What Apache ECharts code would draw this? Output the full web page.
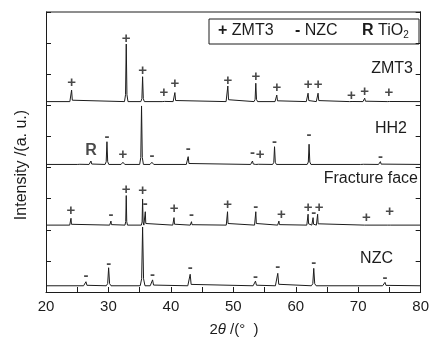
<!DOCTYPE html>
<html>
<head>
<meta charset="utf-8">
<script src="https://cdn.jsdelivr.net/npm/echarts@6/dist/echarts.min.js"></script>
<style>
  html, body { margin: 0; padding: 0; background: #fff; }
  #chart { width: 432px; height: 338px; }
</style>
</head>
<body>
<div id="chart"></div>
<script>
// peak positions (2theta) and peak tops for each stacked pattern, offsets in a.u.
const zmt3Base = 6.12
const zmt3Pos = [24.1, 32.85, 35.47, 38.88, 40.64, 49.12, 53.6, 56.96, 61.97, 63.57, 68.9, 71.04, 74.93]
const zmt3Top = [6.49, 7.97, 6.92, 6.17, 6.41, 6.62, 6.71, 6.33, 6.39, 6.39, 6.15, 6.23, 6.15]

const hh2Base = 4.1
const hh2Pos = [25.3, 27.2, 29.76, 32.32, 35.3, 36.96, 42.77, 53.07, 53.9, 56.6, 62.13, 70.7, 73.55]
const hh2Top = [4.14, 4.21, 4.83, 4.17, 5.98, 4.17, 4.35, 4.21, 4.15, 4.67, 4.75, 4.14, 4.19]

const fracBase = 2.15
const fracPos = [24.0, 30.4, 32.85, 35.47, 35.9, 40.5, 43.3, 49.07, 53.6, 57.3, 61.97, 62.77, 63.5, 71.2, 74.93]
const fracTop = [2.37, 2.28, 3.10, 2.99, 2.58, 2.39, 2.26, 2.58, 2.58, 2.28, 2.50, 2.39, 2.50, 2.18, 2.20]

const nzcBase = 0.2
const nzcPos = [26.4, 30.03, 35.47, 37.07, 43.09, 53.55, 57.12, 62.88, 74.29]
const nzcTop = [0.33, 0.78, 2.09, 0.39, 0.57, 0.35, 0.60, 0.76, 0.31]

// phase marks: [2theta, height, symbol]
const zmt3Marks = [
  [24.1, 6.71, '+'], [32.85, 8.15, '+'], [35.47, 7.11, '+'], [38.88, 6.39, '+'], [40.64, 6.68, '+'],
  [49.12, 6.79, '+'], [53.6, 6.9, '+'], [56.96, 6.55, '+'], [61.97, 6.65, '+'], [63.57, 6.65, '+'],
  [68.9, 6.31, '+'], [71.04, 6.44, '+'], [74.93, 6.39, '+']
]
const hh2Marks = [
  [29.76, 4.99, '-'], [32.32, 4.4, '+'], [36.96, 4.38, '-'], [42.77, 4.6, '-'],
  [53.07, 4.46, '-'], [54.3, 4.4, '+'], [56.6, 4.83, '-'], [62.13, 5.05, '-'], [73.55, 4.35, '-']
]
const hh2Rutile = [[27.2, 4.56, 'R']]
const fracMarks = [
  [24.0, 2.6, '+'], [30.4, 2.48, '-'], [32.85, 3.28, '+'], [35.47, 3.26, '+'], [35.89, 2.82, '-'],
  [40.5, 2.66, '+'], [43.3, 2.48, '-'], [49.07, 2.8, '+'], [53.6, 2.74, '-'], [57.7, 2.48, '+'],
  [61.97, 2.72, '+'], [62.88, 2.53, '-'], [63.73, 2.72, '+'], [71.3, 2.39, '+'], [75.04, 2.56, '+']
]
const nzcMarks = [
  [26.4, 0.51, '-'], [30.03, 0.92, '-'], [37.07, 0.55, '-'], [43.09, 0.79, '-'],
  [53.55, 0.49, '-'], [57.12, 0.8, '-'], [62.88, 0.94, '-'], [74.29, 0.44, '-']
]

const ink = '#1c1c1c'
const font = 'Liberation Sans, Arial, sans-serif'

function pattern(base, pos, top, w) {
  const pts = [[20, base]]
  pos.forEach((p, i) => {
    const h = top[i] - base
    pts.push([p - w, base], [p - w * 0.4, base + h * 0.12], [p, top[i]], [p + w * 0.4, base + h * 0.12], [p + w, base])
  })
  pts.push([80, base])
  return pts
}

function lineSeries(data) {
  return {
    type: 'line',
    data: data,
    symbol: 'none',
    lineStyle: { color: ink, width: 1 },
    silent: true
  }
}

function markSeries(data, size) {
  return {
    type: 'scatter',
    data: data,
    symbolSize: 1,
    itemStyle: { color: 'rgba(0,0,0,0)' },
    label: {
      show: true,
      position: 'inside',
      formatter: p => p.value[2],
      color: ink,
      fontFamily: font,
      fontWeight: 'bold',
      fontSize: size
    },
    silent: true
  }
}

const chart = echarts.init(document.getElementById('chart'))
chart.setOption({
  animation: false,
  grid: { left: 46, right: 11, top: 12, bottom: 46 },
  xAxis: {
    type: 'value',
    min: 20,
    max: 80,
    interval: 5,
    axisLine: { lineStyle: { color: ink } },
    axisTick: { inside: true, length: 5, lineStyle: { color: ink } },
    axisLabel: {
      formatter: v => (v % 10 === 0 ? v : ''),
      color: ink,
      fontFamily: font,
      fontSize: 15,
      margin: 7
    },
    splitLine: { show: false }
  },
  yAxis: [
    {
      type: 'value',
      min: 0,
      max: 9,
      interval: 1,
      axisLine: { show: true, lineStyle: { color: ink } },
      axisTick: { show: true, inside: true, length: 5, lineStyle: { color: ink } },
      axisLabel: { show: false },
      splitLine: { show: false }
    },
    {
      type: 'value',
      position: 'right',
      min: 0,
      max: 9,
      interval: 1,
      axisLine: { show: true, lineStyle: { color: ink } },
      axisTick: { show: true, inside: true, length: 5, lineStyle: { color: ink } },
      axisLabel: { show: false },
      splitLine: { show: false }
    }
  ],
  graphic: [
    { type: 'line', shape: { x1: 46, y1: 12, x2: 421, y2: 12 }, style: { stroke: ink, lineWidth: 1 } },
    { type: 'rect', shape: { x: 209, y: 19, width: 210, height: 25 }, style: { fill: '#fff', stroke: ink, lineWidth: 1 } },
    {
      type: 'text', left: 218, top: 23,
      style: {
        text: '{b|+} ZMT3',
        font: '16px ' + font, fill: ink,
        rich: { b: { fontWeight: 'bold', fontSize: 16, fontFamily: font } }
      }
    },
    {
      type: 'text', left: 295, top: 23,
      style: {
        text: '{b|-} NZC',
        font: '16px ' + font, fill: ink,
        rich: { b: { fontWeight: 'bold', fontSize: 16, fontFamily: font } }
      }
    },
    {
      type: 'text', left: 362, top: 23,
      style: {
        text: '{b|R} TiO{s|2}',
        font: '16px ' + font, fill: ink,
        rich: {
          b: { fontWeight: 'bold', fontSize: 16, fontFamily: font },
          s: { fontSize: 10, fontFamily: font, verticalAlign: 'bottom', padding: [8, 0, 0, 0] }
        }
      }
    },
    { type: 'text', right: 19, top: 61, style: { text: 'ZMT3', font: '16px ' + font, fill: ink } },
    { type: 'text', right: 25, top: 121, style: { text: 'HH2', font: '16px ' + font, fill: ink } },
    { type: 'text', right: 14, top: 171, style: { text: 'Fracture face', font: '16px ' + font, fill: ink } },
    { type: 'text', right: 39, top: 251, style: { text: 'NZC', font: '16px ' + font, fill: ink } },
    {
      type: 'text', x: 22, y: 165, rotation: Math.PI / 2,
      style: { text: 'Intensity /(a. u.)', font: '16px ' + font, fill: ink, align: 'center', verticalAlign: 'middle' }
    },
    {
      type: 'text', x: 234, y: 330,
      style: {
        text: '2{i|θ} /(°  )',
        font: '15px ' + font, fill: ink, align: 'center', verticalAlign: 'middle',
        rich: { i: { fontStyle: 'italic', fontSize: 15, fontFamily: font } }
      }
    }
  ],
  series: [
    lineSeries(pattern(zmt3Base, zmt3Pos, zmt3Top, 0.28)),
    lineSeries(pattern(hh2Base, hh2Pos, hh2Top, 0.3)),
    lineSeries(pattern(fracBase, fracPos, fracTop, 0.2)),
    lineSeries(pattern(nzcBase, nzcPos, nzcTop, 0.38)),
    markSeries(zmt3Marks, 15),
    markSeries(hh2Marks, 15),
    markSeries(hh2Rutile, 16),
    markSeries(fracMarks, 15),
    markSeries(nzcMarks, 15)
  ]
})
</script>
</body>
</html>
